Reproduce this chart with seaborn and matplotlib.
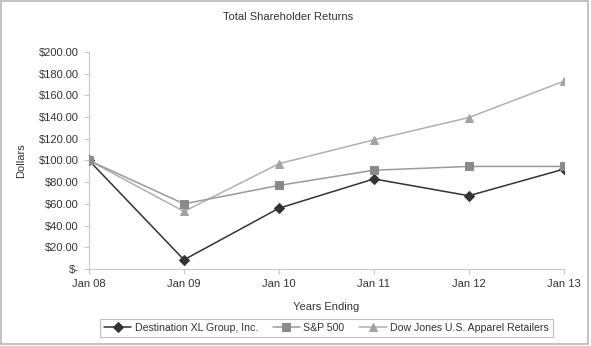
import matplotlib
matplotlib.use("Agg")
import matplotlib.pyplot as plt
import seaborn as sns
import pandas as pd
from matplotlib.patches import Rectangle

years = ["Jan 08", "Jan 09", "Jan 10", "Jan 11", "Jan 12", "Jan 13"]
dxl = [100, 8.5, 56, 83, 67.5, 92]
sp500 = [100, 60, 77, 91, 94.5, 94.5]
dowjones = [100, 53, 97, 119, 139.5, 173]
series_names = ["Destination XL Group, Inc.", "S&P 500", "Dow Jones U.S. Apparel Retailers"]
yticks = list(range(0, 201, 20))

sns.set_theme(style="white")
plt.rcParams['font.family'] = ['Liberation Sans', 'DejaVu Sans']

fig = plt.figure(figsize=(5.91, 3.46), dpi=100)
ax = fig.add_axes([0.1506, 0.2225, 0.8034, 0.6275])

xs = list(range(len(years)))
styles = {
    series_names[0]: (dxl, "#333333", "#333333", "D", 4.8, 1.1, 3),
    series_names[1]: (sp500, "#9a9a9a", "#8a8a8a", "s", 5.2, 1.1, 4),
    series_names[2]: (dowjones, "#b0b0b0", "#a3a3a3", "^", 5.8, 1.1, 2),
}
for name in series_names:
    vals, lc, mc, mk, ms, lw, z = styles[name]
    df = pd.DataFrame({"x": xs, "y": vals})
    sns.lineplot(data=df, x="x", y="y", ax=ax, color=lc, marker=mk, markersize=ms,
                 markerfacecolor=mc, markeredgecolor=mc, linewidth=lw, label=name, zorder=z)

ax.set_xlim(0, 5)
ax.set_ylim(0, 200)
ax.set_xticks(xs)
ax.set_xticklabels(years)
ax.set_yticks(yticks)
ax.set_yticklabels(["$-" if v == 0 else f"${v:.2f}" for v in yticks])
ax.tick_params(axis="both", labelsize=8, length=3.5, width=0.8, direction="out",
               pad=4, color="#c8c8c8", labelcolor="#333333")
ax.xaxis.set_ticks_position("bottom")
ax.yaxis.set_ticks_position("left")
for s in ["top", "right"]:
    ax.spines[s].set_visible(False)
for s in ["left", "bottom"]:
    ax.spines[s].set_color("#c8c8c8")
    ax.spines[s].set_linewidth(0.8)
ax.set_xlabel("Years Ending", fontsize=8, color="#333333", labelpad=9)
ax.set_ylabel("Dollars", fontsize=8, color="#333333", labelpad=9)
fig.text(0.487, 0.951, "Total Shareholder Returns", ha="center", va="center",
         fontsize=8, color="#333333")

h, l = ax.get_legend_handles_labels()
leg = ax.legend(h, l, loc="center", bbox_to_anchor=(0.552, 0.052), bbox_transform=fig.transFigure,
                ncol=3, fontsize=7.6, frameon=True, fancybox=False, handlelength=2.6,
                columnspacing=1.4, handletextpad=0.3, borderpad=0.4, borderaxespad=0)
leg.get_frame().set_edgecolor("#b0b0b0")
leg.get_frame().set_linewidth(0.8)
for t in leg.get_texts():
    t.set_color("#333333")

fig.patches.append(Rectangle((0.002, 0.007), 0.993, 0.99, transform=fig.transFigure,
                             fill=False, edgecolor="#b8b8b8", linewidth=1.2))

fig.savefig("out.png", dpi=100)
